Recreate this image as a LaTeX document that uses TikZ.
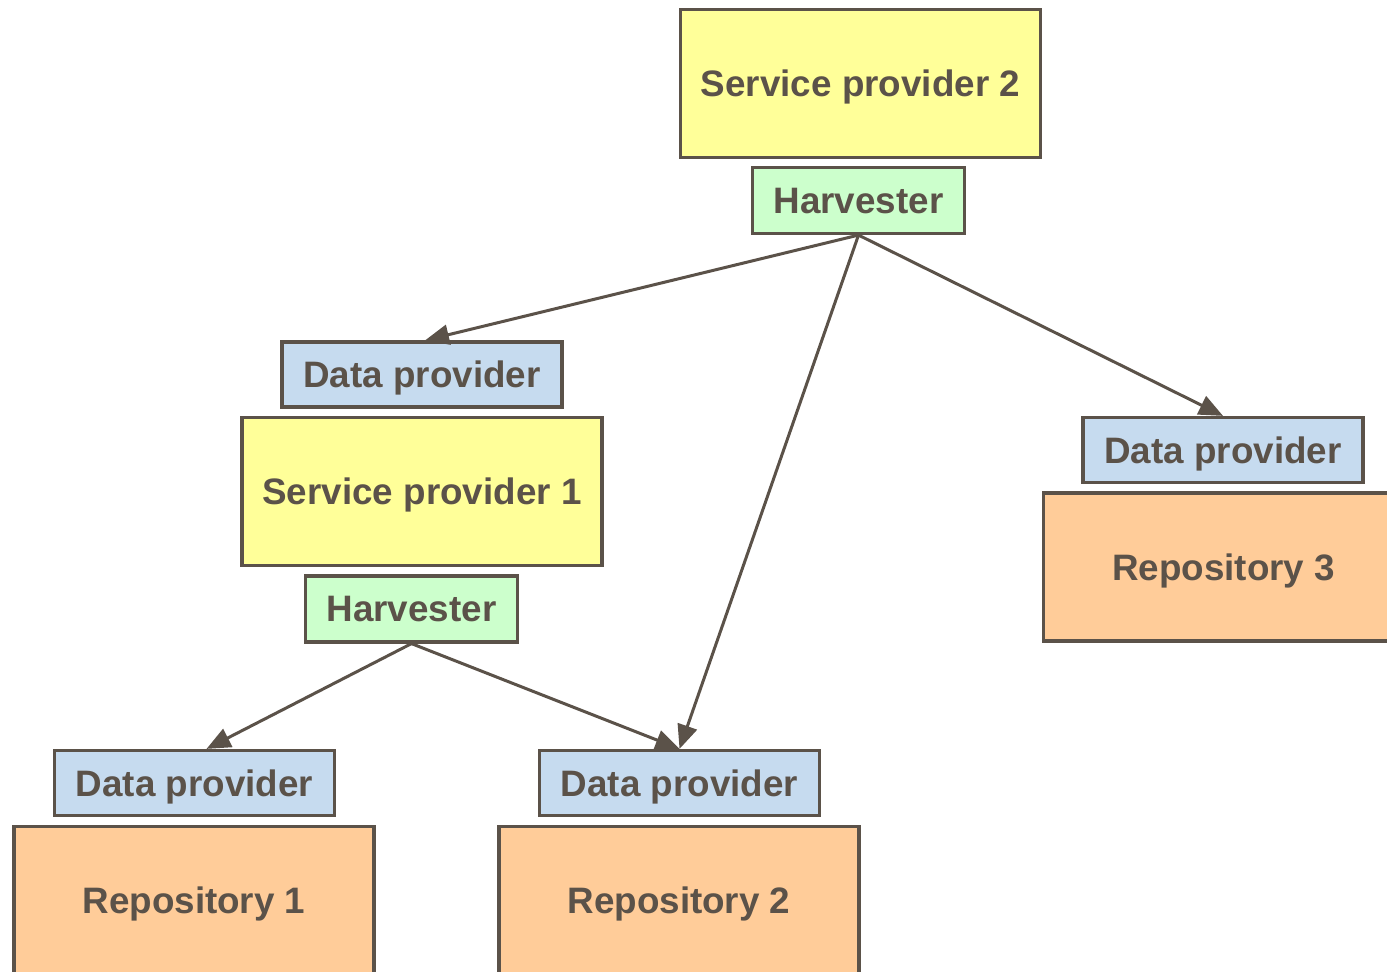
\documentclass[tikz,border=0pt]{standalone}
\usepackage{fontspec}
\setmainfont{Liberation Sans}
\usetikzlibrary{arrows.meta}
\definecolor{ink}{RGB}{91,82,73}
\definecolor{spfill}{RGB}{255,255,153}
\definecolor{hvfill}{RGB}{204,255,204}
\definecolor{dpfill}{RGB}{198,219,239}
\definecolor{rpfill}{RGB}{255,204,153}
\tikzset{
  box/.style={draw=ink, line width=1.6pt, inner sep=0pt, text=ink, text depth=0pt,
    font=\fontsize{18.4}{22}\selectfont\bfseries},
  spbox/.style={box, fill=spfill, minimum width=180pt, minimum height=74pt},
  hvbox/.style={box, fill=hvfill, minimum width=106pt, minimum height=33pt},
  dpbox/.style={box, fill=dpfill, minimum width=140pt, minimum height=32.5pt},
  rpbox/.style={box, fill=rpfill, minimum width=180pt, minimum height=74pt},
  conn/.style={draw=ink, line width=1.5pt, -{Triangle[length=12pt,width=10pt]}}
}
\begin{document}
\begin{tikzpicture}[x=0.5pt,y=-0.5pt]
\useasboundingbox (0,0) rectangle (1387,972);
\clip (0,0) rectangle (1387,972);
\node[spbox] (sp2) at (860.5,83.5) {Service provider 2};
\node[hvbox] (h2) at (858.5,200.5) {Harvester};
\node[dpbox] (dpa) at (422,374.5) {Data provider};
\node[spbox] (sp1) at (422,491.5) {Service provider 1};
\node[hvbox] (h1) at (411.5,609) {Harvester};
\node[dpbox] (dp3) at (1223,450) {Data provider};
\node[rpbox] (r3) at (1223.5,567) {Repository 3};
\node[dpbox] (dp1) at (194.5,783) {Data provider};
\node[rpbox] (r1) at (194,900.5) {Repository 1};
\node[dpbox] (dp2) at (679.5,783) {Data provider};
\node[rpbox] (r2) at (679,900.5) {Repository 2};
\draw[conn] (h2.south) -- ([xshift=1.5pt]dpa.north);
\draw[conn] (h2.south) -- (dp2.north);
\draw[conn] (h2.south) -- (dp3.north);
\draw[conn] (h1.south) -- ([xshift=6pt]dp1.north);
\draw[conn] (h1.south) -- (dp2.north);
\end{tikzpicture}
\end{document}
